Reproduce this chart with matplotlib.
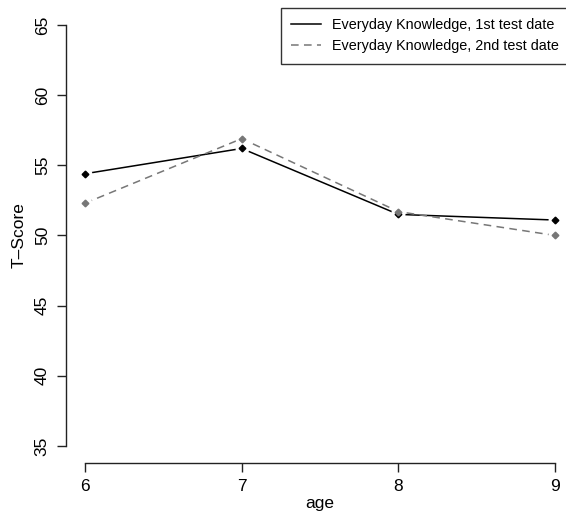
import matplotlib
matplotlib.use("Agg")
import matplotlib.pyplot as plt

plt.rcParams['font.family'] = ['Liberation Sans', 'DejaVu Sans']

age = [6, 7, 8, 9]
first_test = [54.4, 56.2, 51.5, 51.1]
second_test = [52.3, 56.9, 51.7, 50.0]
y_ticks = [35, 40, 45, 50, 55, 60, 65]
labels = ["Everyday Knowledge, 1st test date", "Everyday Knowledge, 2nd test date"]

fig = plt.figure(figsize=(5.66, 5.19), dpi=100)
ax = fig.add_axes([0.117, 0.1083, 0.897, 0.876])

# R type="b": lines broken around the points (white halo under each marker)
dash = (0, (5, 3.5))
ax.plot(age, first_test, color="black", lw=1.1, label=labels[0], zorder=2)
ax.plot(age, first_test, ls="none", marker="o", ms=10, mfc="white", mec="none", zorder=2.1)
ax.plot(age, second_test, color="#777777", lw=1.1, ls=dash, label=labels[1], zorder=2.2)
ax.plot(age, second_test, ls="none", marker="o", ms=10, mfc="white", mec="none", zorder=2.3)
ax.plot(age, first_test, ls="none", marker="D", ms=3.4, color="black", zorder=3)
ax.plot(age, second_test, ls="none", marker="D", ms=3.4, color="#777777", zorder=3)

ax.set_xlim(5.88, 9.12)
ax.set_ylim(33.8, 66.2)
ax.set_xticks(age)
ax.set_yticks(y_ticks)
for s in ["top", "right"]:
    ax.spines[s].set_visible(False)
ax.spines["left"].set_bounds(35, 65)
ax.spines["bottom"].set_bounds(6, 9)
for s in ["left", "bottom"]:
    ax.spines[s].set_linewidth(1.0)
    ax.spines[s].set_color("#222222")
ax.tick_params(length=6.8, width=1.0, color="#222222", labelsize=12.5)
ax.tick_params(axis="x", pad=5)
ax.tick_params(axis="y", pad=5)
for t in ax.get_yticklabels():
    t.set_rotation(90)
    t.set_va("center")
ax.set_xlabel("age", fontsize=12.5, labelpad=1)
ax.set_ylabel("T\u2013Score", fontsize=12.5, labelpad=6)

leg = ax.legend(loc="upper right", bbox_to_anchor=(0.991, 1.0), fontsize=10.4,
                frameon=True, fancybox=False, borderaxespad=0, handlelength=2.05,
                handletextpad=0.82, labelspacing=0.5, borderpad=0.7)
leg.get_frame().set_edgecolor("black")
leg.get_frame().set_linewidth(1.0)

fig.savefig("out.png", dpi=100)
